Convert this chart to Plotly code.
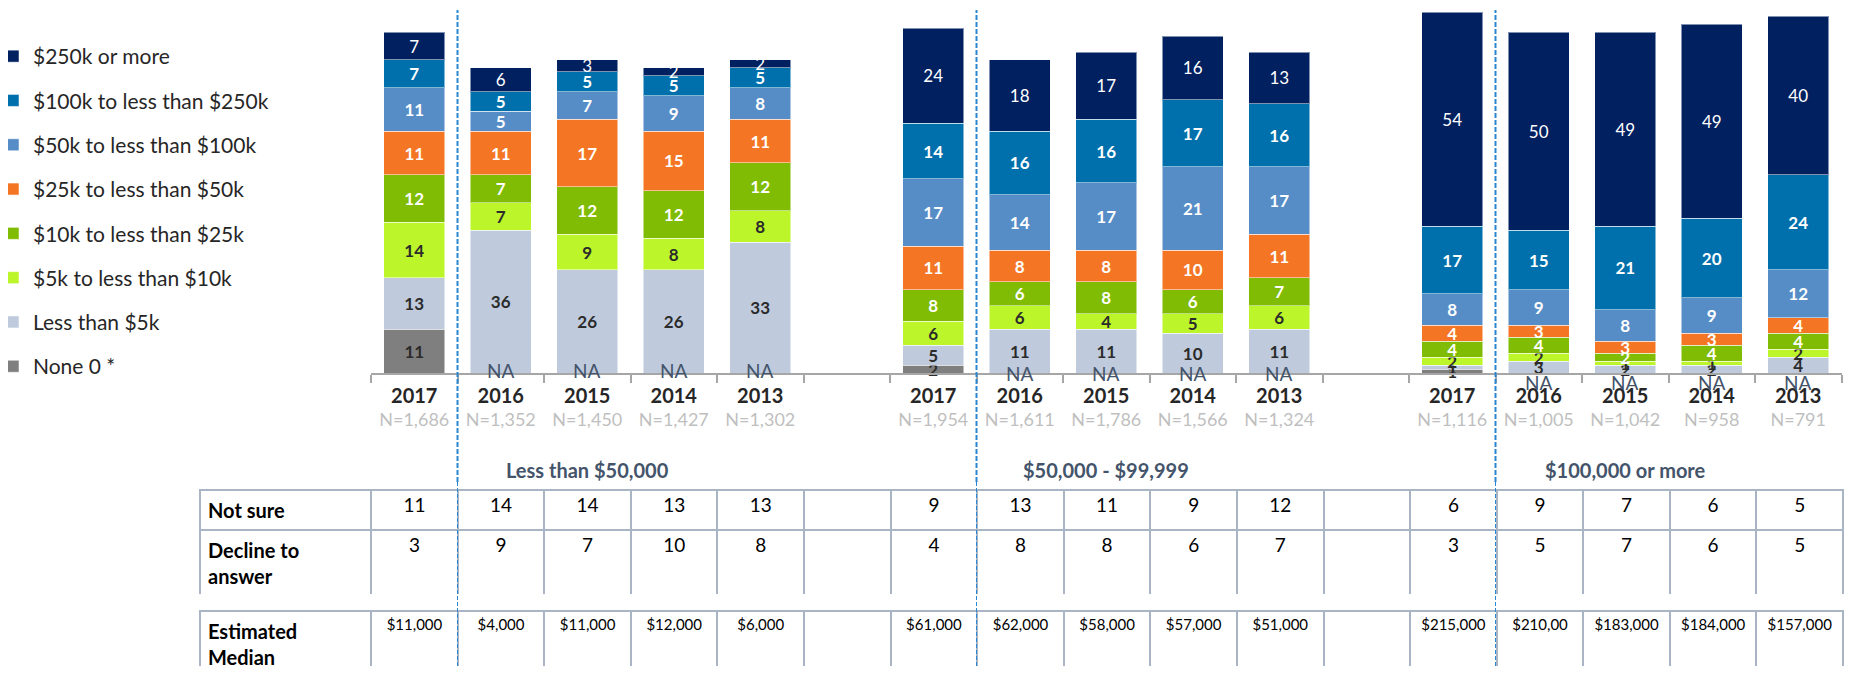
import plotly.graph_objects as go

# ---------------- data ----------------
years = ["2017", "2016", "2015", "2014", "2013"]
groups = ["Less than $50,000", "$50,000 - $99,999", "$100,000 or more"]
n_labels = [
    ["N=1,686", "N=1,352", "N=1,450", "N=1,427", "N=1,302"],
    ["N=1,954", "N=1,611", "N=1,786", "N=1,566", "N=1,324"],
    ["N=1,116", "N=1,005", "N=1,042", "N=958", "N=791"],
]

series_names = [
    "None 0 *", "Less than $5k", "$5k to less than $10k", "$10k to less than $25k",
    "$25k to less than $50k", "$50k to less than $100k", "$100k to less than $250k",
    "$250k or more",
]
# values per group: [Less than $50k], [$50k-$99,999], [$100k or more]; None = NA
none_0 = [[11, None, None, None, None], [2, None, None, None, None], [1, None, None, None, None]]
lt_5k = [[13, 36, 26, 26, 33], [5, 11, 11, 10, 11], [1, 3, 2, 2, 4]]
k5_10 = [[14, 7, 9, 8, 8], [6, 6, 4, 5, 6], [2, 2, 1, 1, 2]]
k10_25 = [[12, 7, 12, 12, 12], [8, 6, 8, 6, 7], [4, 4, 2, 4, 4]]
k25_50 = [[11, 11, 17, 15, 11], [11, 8, 8, 10, 11], [4, 3, 3, 3, 4]]
k50_100 = [[11, 5, 7, 9, 8], [17, 14, 17, 21, 17], [8, 9, 8, 9, 12]]
k100_250 = [[7, 5, 5, 5, 5], [14, 16, 16, 17, 16], [17, 15, 21, 20, 24]]
k250 = [[7, 6, 3, 2, 2], [24, 18, 17, 16, 13], [54, 50, 49, 49, 40]]
series_values = [none_0, lt_5k, k5_10, k10_25, k25_50, k50_100, k100_250, k250]

series_colors = ["#7F7F7F", "#BFCBDD", "#BDF52B", "#7FBC03", "#F47624",
                 "#568DC7", "#0070AC", "#002060"]
text_colors = ["#2B2B2B", "#2B2B2B", "#2B2B2B", "#FFFFFF", "#FFFFFF",
               "#FFFFFF", "#FFFFFF", "#FFFFFF"]
text_weights = ["bold"] * 7 + ["normal"]

not_sure = [[11, 14, 14, 13, 13], [9, 13, 11, 9, 12], [6, 9, 7, 6, 5]]
decline = [[3, 9, 7, 10, 8], [4, 8, 8, 6, 7], [3, 5, 7, 6, 5]]
median = [["$11,000", "$4,000", "$11,000", "$12,000", "$6,000"],
          ["$61,000", "$62,000", "$58,000", "$57,000", "$51,000"],
          ["$215,000", "$210,00", "$183,000", "$184,000", "$157,000"]]

# ---------------- categories (with an empty slot between groups) ----------------
cats, tick_text = [], []
for g in range(3):
    for i, yr in enumerate(years):
        cats.append(f"g{g}_{yr}")
        tick_text.append(f"<b><span style='font-size:20px'>{yr}</span></b><br>"
                         f"<span style='color:#BFBFBF'>{n_labels[g][i]}</span>")
    if g < 2:
        cats.append(f"gap{g}")
        tick_text.append("")


def flat(vals):
    out = []
    for g in range(3):
        out += list(vals[g])
        if g < 2:
            out.append(None)
    return out


# page has an 8px body margin -> figure coordinates = page coordinates - 8
OFF = 8
W, H = 1862 - 2 * OFF, 674 - 2 * OFF
MT = 10 - OFF
PH = H - MT


def py(page_pix):  # page pixel (from top) -> paper fraction
    return (H - (page_pix - OFF)) / PH


def px(page_pix):  # page pixel (from left) -> paper fraction (margins are 0)
    return (page_pix - OFF) / W


FONT = "Lato"
fig = go.Figure()

for i, (name, vals, col, tcol, tw) in enumerate(zip(series_names, series_values, series_colors,
                                                    text_colors, text_weights)):
    yv = flat(vals)
    fig.add_trace(go.Bar(
        x=cats, y=yv, name=name,
        marker=dict(color=col, line=dict(color="rgba(255,255,255,0.5)", width=1)),
        text=["" if v is None else str(v) for v in yv],
        textposition="inside", textangle=0, constraintext="none", insidetextanchor="middle",
        textfont=dict(family=FONT, size=17, color=tcol, weight=tw),
        legendgroup=name, legendrank=1000 - 10 * i, cliponaxis=False, hoverinfo="skip",
    ))

# NA labels where "None" was not asked
na_shift = [3, 0, -9]
na_annots = []
for g in range(3):
    for yr, v in zip(years, none_0[g]):
        if v is None:
            na_annots.append(dict(x=f"g{g}_{yr}", y=0, xref="x", yref="y", text="NA",
                                  showarrow=False, yanchor="middle", yshift=na_shift[g],
                                  font=dict(family=FONT, size=19, color="#44546A")))

# group titles
title_annots = []
for g, t in enumerate(groups):
    title_annots.append(dict(x=f"g{g}_{years[2]}", y=py(470), xref="x", yref="paper",
                             text=f"<b>{t}</b>", showarrow=False, yanchor="middle",
                             font=dict(family=FONT, size=20, color="#44546A")))

# ---------------- table ----------------
tbl_x = [px(200), px(1843)]
colw = [171] + [86.5] * len(cats)


def tflat(vals):
    out = []
    for g in range(3):
        out += [str(v) for v in vals[g]]
        if g < 2:
            out.append("")
    return out


ns_row = tflat(not_sure)
dc_row = tflat(decline)
md_row = tflat(median)
line_style = dict(color="#A9B4C4", width=2)
aligns = ["left"] + ["center"] * len(cats)
fig.add_trace(go.Table(
    domain=dict(x=tbl_x, y=[py(594), py(490)]),
    columnwidth=colw,
    header=dict(values=[["<b>Not sure</b>"]] + [[v] for v in ns_row], height=38,
                align=aligns, fill_color="white", line=line_style,
                font=dict(family=FONT, size=[20] + [19] * len(cats), color="#000000")),
    cells=dict(values=[["<b>Decline to<br>answer</b>"]] + [[v] for v in dc_row], height=66,
               align=aligns, fill_color="white", line=line_style,
               font=dict(family=FONT, size=[20] + [19] * len(cats), color="#000000")),
))
fig.add_trace(go.Table(
    domain=dict(x=tbl_x, y=[0, py(611)]),
    columnwidth=colw,
    header=dict(values=[["<b>Estimated<br>Median</b>"]] + [[v] for v in md_row], height=64,
                align=aligns, fill_color="white", line=line_style,
                font=dict(family=FONT, size=[20] + [15] * len(cats), color="#000000")),
    cells=dict(values=[], fill_color="white", line=dict(color="white", width=0)),
))

# dashed separators (2017 vs earlier years)
shapes = []
for g in range(3):
    xb = cats.index(f"g{g}_{years[0]}") + 0.5
    shapes.append(dict(type="line", xref="x", yref="paper", x0=xb, x1=xb, y0=py(482), y1=1,
                       line=dict(color="#2A86D1", width=2, dash="5px,2px")))
    shapes.append(dict(type="line", xref="x", yref="paper", x0=xb, x1=xb, y0=0, y1=py(482),
                       line=dict(color="#2A86D1", width=1, dash="4px,2px")))

fig.update_layout(
    width=W, height=H, barmode="stack", bargap=0.295,
    margin=dict(l=0, r=0, t=MT, b=0, autoexpand=False),
    paper_bgcolor="white", plot_bgcolor="white",
    font=dict(family=FONT, color="#262626"),
    xaxis=dict(domain=[px(371), px(1841.5)], type="category", categoryorder="array",
               categoryarray=cats, range=[-0.5, len(cats) - 0.5],
               tickmode="array", tickvals=cats, ticktext=tick_text, tickson="boundaries",
               ticks="outside", ticklen=8, tickwidth=2, tickcolor="#A6A6A6",
               showline=True, linecolor="#A6A6A6", linewidth=2, showgrid=False,
               tickfont=dict(family=FONT, size=18, color="#262626"), ticklabelstandoff=6),
    yaxis=dict(domain=[py(373), 1], range=[0, 363 / 3.963], visible=False, showgrid=False),
    legend=dict(xref="paper", yref="paper", x=-15 / W, y=py(36), bgcolor="rgba(0,0,0,0)",
                xanchor="left", yanchor="top", traceorder="grouped", tracegroupgap=14,
                maxheight=640, font=dict(family=FONT, size=21, color="#262626"),
                itemclick=False),
    annotations=na_annots + title_annots,
    shapes=shapes,
)

fig.write_html("out.html")
